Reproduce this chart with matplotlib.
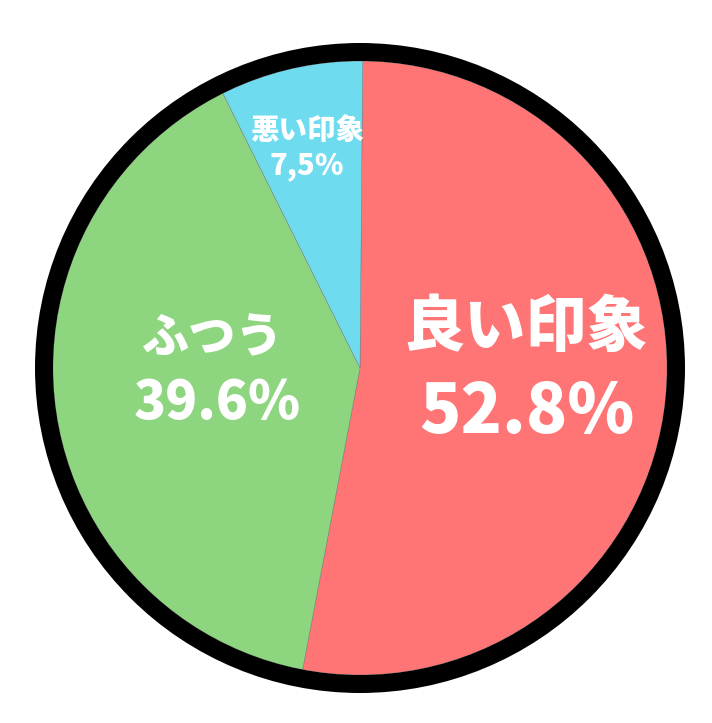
import matplotlib
matplotlib.use("Agg")
import matplotlib.pyplot as plt
from matplotlib.patches import Circle

# データ
labels = ["良い印象", "ふつう", "悪い印象"]
values = [52.8, 39.6, 7.5]
pct_text = ["52.8%", "39.6%", "7,5%"]
colors = ["#FF7474", "#8DD67F", "#6EDBEF"]

plt.rcParams['font.family'] = ['Noto Sans CJK JP', 'DejaVu Sans']

W, H = 712, 723
fig = plt.figure(figsize=(W / 100, H / 100), dpi=100)
ax = fig.add_axes([0, 0, 1, 1])

cx, cy = 360, H - 368
r = 307
ax.pie(values, colors=colors, startangle=89.5, counterclock=False,
       center=(cx, cy), radius=r,
       wedgeprops=dict(edgecolor="#707070", linewidth=0.3))

# 外枠の黒い円
ax.add_patch(Circle((cx, cy), 316, fill=False, edgecolor="black",
                    linewidth=18 * 72 / 100))

# ラベル (ピクセル位置, 文字サイズ)
pos = [((526, 328, 44), (527, 413, 49)),
       ((212, 338, 34), (217, 403, 38)),
       ((307, 130, 20.5), (307, 166, 21))]
for i in range(len(labels)):
    (lx, ly, lfs), (px, py, pfs) = pos[i]
    ax.text(lx, H - ly, labels[i], color="white", fontsize=lfs,
            fontweight="heavy", ha="center", va="center")
    ax.text(px, H - py, pct_text[i], color="white", fontsize=pfs,
            fontweight="heavy", ha="center", va="center")

ax.set_xlim(0, W)
ax.set_ylim(0, H)
ax.set_aspect("auto")
ax.axis("off")

fig.savefig("out.png", dpi=100, facecolor="white")
